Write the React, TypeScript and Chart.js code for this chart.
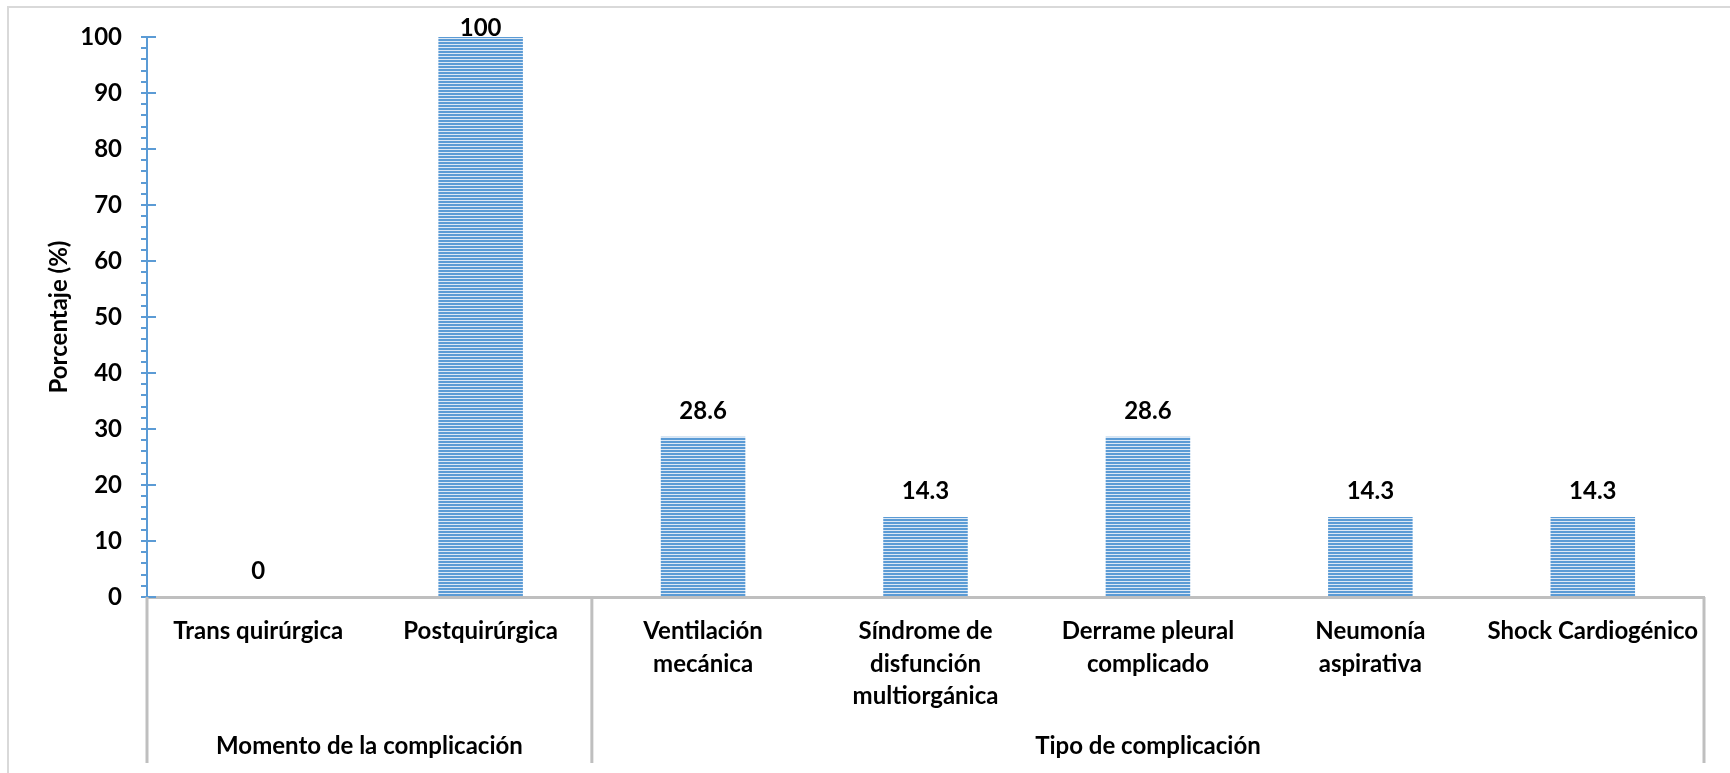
import React, { useEffect, useRef } from 'react';
import { Chart, registerables } from 'chart.js';

Chart.register(...registerables);

const categories: string[][] = [
  ['Trans quirúrgica'],
  ['Postquirúrgica'],
  ['Ventilación', 'mecánica'],
  ['Síndrome de', 'disfunción', 'multiorgánica'],
  ['Derrame pleural', 'complicado'],
  ['Neumonía', 'aspirativa'],
  ['Shock Cardiogénico'],
];
const values: number[] = [0, 100, 28.6, 14.3, 28.6, 14.3, 14.3];
const valueLabels: string[] = ['0', '100', '28.6', '14.3', '28.6', '14.3', '14.3'];
const groupNames: string[] = ['Momento de la complicación', 'Tipo de complicación'];
const groupSizes: number[] = [2, 5];
const yMin = 0;
const yMax = 100;
const yMajorStep = 10;
const yMinorStep = 2;
const yAxisTitle = 'Porcentaje (%)';

const FONT = 'Lato';
const BLUE = '#5B9BD5';
const GRAY = '#BFBFBF';

function makePattern(ctx: CanvasRenderingContext2D) {
  const c = document.createElement('canvas');
  c.width = 4;
  c.height = 3;
  const p = c.getContext('2d')!;
  p.fillStyle = '#DCE8F5';
  p.fillRect(0, 0, 4, 3);
  p.fillStyle = BLUE;
  p.fillRect(0, 0, 4, 2);
  return ctx.createPattern(c, 'repeat')!;
}

const decorPlugin = {
  id: 'decor',
  beforeDraw(chart: any) {
    const ctx = chart.ctx;
    ctx.save();
    ctx.fillStyle = '#ffffff';
    ctx.fillRect(0, 0, chart.width, chart.height);
    ctx.strokeStyle = '#D9D9D9';
    ctx.lineWidth = 2;
    ctx.strokeRect(8, 7, chart.width + 20, chart.height + 20);
    ctx.restore();
  },
  afterDraw(chart: any) {
    const ctx = chart.ctx;
    const x = chart.scales.x;
    const y = chart.scales.y;
    const area = chart.chartArea;
    ctx.save();
    // inward part of major ticks
    ctx.strokeStyle = BLUE;
    ctx.lineWidth = 2;
    for (let v = yMin; v <= yMax; v += yMajorStep) {
      const py = Math.round(y.getPixelForValue(v));
      ctx.beginPath();
      ctx.moveTo(area.left, py);
      ctx.lineTo(area.left + 9, py);
      ctx.stroke();
    }
    // group separators
    const bottom = chart.height - 10;
    const seps: number[] = [area.left];
    let idx = 0;
    for (let g = 0; g < groupSizes.length; g++) {
      idx += groupSizes[g];
      if (idx < categories.length) {
        seps.push((x.getPixelForValue(idx - 1) + x.getPixelForValue(idx)) / 2);
      } else {
        seps.push(area.right);
      }
    }
    ctx.strokeStyle = GRAY;
    ctx.lineWidth = 3;
    for (const sx of seps) {
      ctx.beginPath();
      ctx.moveTo(sx, area.bottom);
      ctx.lineTo(sx, bottom);
      ctx.stroke();
    }
    // group labels
    ctx.fillStyle = '#000';
    ctx.font = `bold 24px ${FONT}`;
    ctx.textAlign = 'center';
    ctx.textBaseline = 'middle';
    for (let g = 0; g < groupNames.length; g++) {
      ctx.fillText(groupNames[g], (seps[g] + seps[g + 1]) / 2, 746);
    }
    // value labels
    const meta = chart.getDatasetMeta(0);
    meta.data.forEach((bar: any, i: number) => {
      const ly = Math.max(bar.y - 26, area.top - 9);
      ctx.fillText(valueLabels[i], bar.x, ly);
    });
    ctx.restore();
  },
};

export default function App() {
  const ref = useRef<HTMLCanvasElement>(null);
  useEffect(() => {
    let chart: Chart | null = null;
    let cancelled = false;
    const build = () => {
      if (cancelled || !ref.current) return;
      const ctx = ref.current.getContext('2d')!;
      Chart.defaults.font.family = FONT;
      chart = new Chart(ctx, {
        type: 'bar',
        data: {
          labels: categories,
          datasets: [
            {
              data: values,
              backgroundColor: makePattern(ctx),
              borderWidth: 0,
              barPercentage: 0.38,
              categoryPercentage: 1,
            },
          ],
        },
        options: {
          animation: false,
          responsive: false,
          events: [],
          layout: { padding: { left: 0, top: 37, right: 26, bottom: 0 } },
          plugins: { legend: { display: false }, tooltip: { enabled: false } },
          scales: {
            x: {
              grid: { display: false, drawTicks: false },
              border: { display: true, color: GRAY, width: 3 },
              ticks: {
                color: '#000',
                font: { size: 24, weight: 'bold', lineHeight: 1.36 },
                padding: 18,
                maxRotation: 0,
                autoSkip: false,
              },
              afterFit: (s: any) => {
                s.height = 773 - 597;
              },
            },
            y: {
              min: yMin,
              max: yMax,
              grid: { display: true, drawOnChartArea: false, drawTicks: true, tickLength: 6, color: BLUE, lineWidth: 2 },
              border: { display: true, color: BLUE, width: 2 },
              ticks: {
                stepSize: yMinorStep,
                autoSkip: false,
                color: '#000',
                padding: 19,
                font: { size: 24, weight: 'bold' },
                callback: (v: any) => (Number(v) % yMajorStep === 0 ? String(v) : ''),
              },
              title: {
                display: true,
                text: yAxisTitle,
                color: '#000',
                font: { size: 24, weight: 'bold' },
                padding: { top: 45, bottom: 0 },
              },
              afterFit: (s: any) => {
                s.width = 147;
              },
            },
          },
        },
        plugins: [decorPlugin],
      });
    };
    const fontsReady = (document as any).fonts
      ? Promise.all([
          (document as any).fonts.load(`bold 24px ${FONT}`),
          (document as any).fonts.load(`24px ${FONT}`),
        ]).catch(() => null)
      : Promise.resolve();
    fontsReady.then(build);
    return () => {
      cancelled = true;
      if (chart) chart.destroy();
    };
  }, []);
  return (
    <div style={{ position: 'fixed', left: 0, top: 0, width: 1730, height: 773, background: '#fff' }}>
      <canvas ref={ref} width={1730} height={773} style={{ display: 'block', width: 1730, height: 773 }} />
    </div>
  );
}
